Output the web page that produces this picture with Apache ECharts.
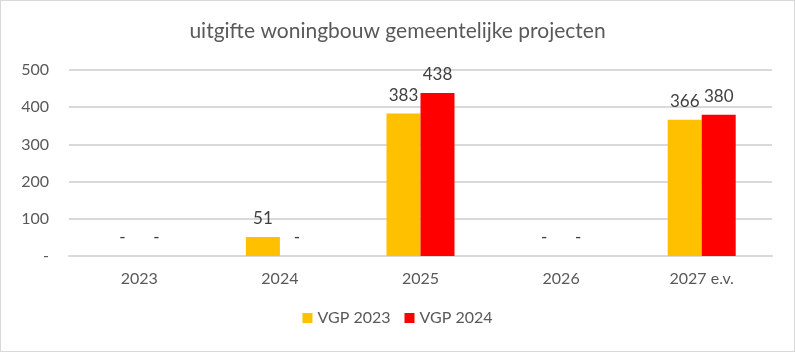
<!DOCTYPE html>
<html>
<head>
<meta charset="utf-8">
<script src="https://cdn.jsdelivr.net/npm/echarts@6/dist/echarts.min.js"></script>
<style>
  html, body { margin: 0; padding: 0; background: #fff; }
  #chart { width: 793px; height: 350px; border: 1px solid #d9d9d9; }
</style>
</head>
<body>
<div id="chart"></div>
<script>
  var categories = ['2023', '2024', '2025', '2026', '2027 e.v.'];
  var vgp2023 = [0, 51, 383, 0, 366];
  var vgp2024 = [0, 0, 438, 0, 380];

  var font = 'Lato, "Open Sans", sans-serif';
  var textColor = '#595959';

  function dashZero(p) {
    return p.value === 0 ? '-' : p.value;
  }

  var chart = echarts.init(document.getElementById('chart'));
  chart.setOption({
    textStyle: {fontFamily: font},
    title: {
      text: 'uitgifte woningbouw gemeentelijke projecten',
      left: 'center',
      top: 15,
      textStyle: {fontFamily: font, fontSize: 21, fontWeight: 'normal', color: textColor}
    },
    legend: {
      bottom: 20,
      left: 'center',
      itemWidth: 10,
      itemHeight: 10,
      itemGap: 14,
      icon: 'rect',
      textStyle: {fontFamily: font, fontSize: 16, color: textColor}
    },
    grid: {
      left: 68,
      right: 22,
      top: 69,
      bottom: 95
    },
    xAxis: {
      type: 'category',
      data: categories,
      axisLine: {lineStyle: {color: '#d9d9d9', width: 2}},
      axisTick: {show: false},
      axisLabel: {fontFamily: font, fontSize: 16, color: textColor, margin: 15}
    },
    yAxis: {
      type: 'value',
      min: 0,
      max: 500,
      interval: 100,
      axisLine: {show: false},
      axisTick: {show: false},
      splitLine: {lineStyle: {color: '#d9d9d9', width: 2}},
      axisLabel: {
        fontFamily: font, fontSize: 16, color: textColor, margin: 20,
        formatter: function (v) { return v === 0 ? '-' : v; }
      }
    },
    series: [
      {
        name: 'VGP 2023',
        type: 'bar',
        data: vgp2023,
        barWidth: 34,
        barGap: '0%',
        itemStyle: {color: '#ffc000'},
        label: {
          show: true, position: 'top', distance: 10,
          fontFamily: font, fontSize: 17, color: '#404040',
          formatter: dashZero
        }
      },
      {
        name: 'VGP 2024',
        type: 'bar',
        data: vgp2024,
        barWidth: 34,
        barGap: '0%',
        itemStyle: {color: '#ff0000'},
        label: {
          show: true, position: 'top', distance: 10,
          fontFamily: font, fontSize: 17, color: '#404040',
          formatter: dashZero
        }
      }
    ]
  });
</script>
</body>
</html>
